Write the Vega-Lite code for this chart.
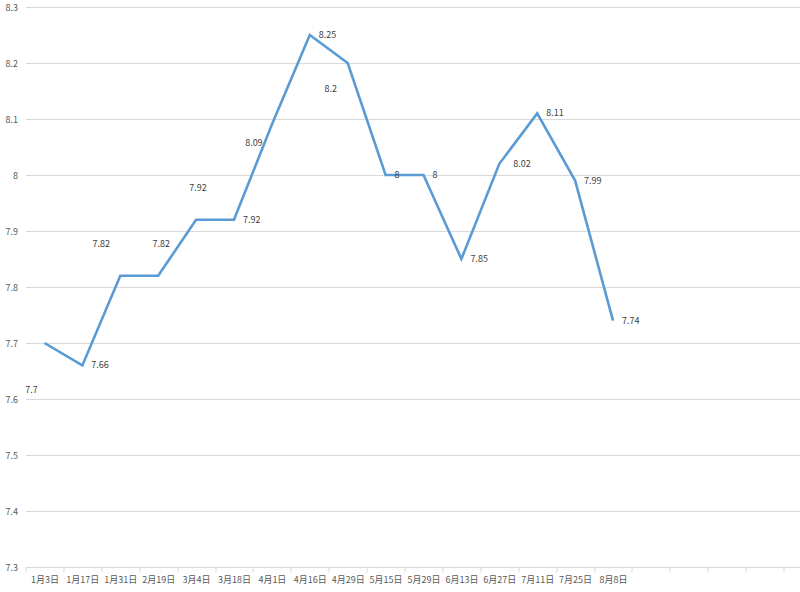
{
  "$schema": "https://vega.github.io/schema/vega-lite/v6.json",
  "autosize": {"type": "none"},
  "padding": {"left": 25.5, "top": 7, "right": 0, "bottom": 25},
  "width": 774.5,
  "height": 560,
  "background": "white",
  "data": {
    "values": [
      {"date": "1月3日", "ph": 7.7},
      {"date": "1月17日", "ph": 7.66},
      {"date": "1月31日", "ph": 7.82},
      {"date": "2月19日", "ph": 7.82},
      {"date": "3月4日", "ph": 7.92},
      {"date": "3月18日", "ph": 7.92},
      {"date": "4月1日", "ph": 8.09},
      {"date": "4月16日", "ph": 8.25},
      {"date": "4月29日", "ph": 8.2},
      {"date": "5月15日", "ph": 8},
      {"date": "5月29日", "ph": 8},
      {"date": "6月13日", "ph": 7.85},
      {"date": "6月27日", "ph": 8.02},
      {"date": "7月11日", "ph": 8.11},
      {"date": "7月25日", "ph": 7.99},
      {"date": "8月8日", "ph": 7.74}
    ]
  },
  "encoding": {
    "x": {
      "field": "date",
      "type": "nominal",
      "sort": null,
      "bandPosition": 0.5,
      "scale": {
        "type": "band",
        "domain": ["1月3日", "1月17日", "1月31日", "2月19日", "3月4日", "3月18日", "4月1日", "4月16日", "4月29日", "5月15日", "5月29日", "6月13日", "6月27日", "7月11日", "7月25日", "8月8日", "_1", "_2", "_3", "_4", "_5"],
        "range": [0, 796],
        "paddingInner": 0,
        "paddingOuter": 0
      },
      "axis": {
        "title": null,
        "labelAngle": 0,
        "labelExpr": "indexof(datum.label, '_') == 0 ? '' : datum.label",
        "labelFont": "Noto Sans CJK SC",
        "labelFontSize": 9,
        "labelColor": "#595959",
        "labelPadding": 3,
        "tickBand": "extent",
        "ticks": true,
        "tickSize": 5,
        "tickColor": "#d9d9d9",
        "domainColor": "#d9d9d9",
        "grid": false
      }
    },
    "y": {
      "field": "ph",
      "type": "quantitative",
      "scale": {"domain": [7.3, 8.3], "nice": false, "zero": false},
      "axis": {
        "title": null,
        "values": [7.3, 7.4, 7.5, 7.6, 7.7, 7.8, 7.9, 8, 8.1, 8.2, 8.3],
        "labelExpr": "'' + round(datum.value * 10) / 10",
        "labelFont": "Noto Sans CJK SC",
        "labelFontSize": 9,
        "labelColor": "#595959",
        "labelPadding": 8,
        "domain": false,
        "ticks": false,
        "grid": true,
        "gridColor": "#d9d9d9"
      }
    }
  },
  "layer": [
    {
      "mark": {"type": "line", "color": "#5b9bd5", "strokeWidth": 2.6}
    },
    {
      "transform": [{"filter": {"field": "date", "oneOf": ["1月17日", "3月18日", "4月16日", "5月15日", "5月29日", "6月13日", "7月11日", "7月25日", "8月8日"]}}],
      "mark": {"type": "text", "align": "left", "baseline": "middle", "dx": 9, "font": "Noto Sans CJK SC", "fontSize": 9, "color": "#404040"},
      "encoding": {"text": {"field": "ph", "type": "nominal"}}
    },
    {
      "transform": [{"filter": {"field": "date", "equal": "6月27日"}}],
      "mark": {"type": "text", "align": "left", "baseline": "middle", "dx": 14, "font": "Noto Sans CJK SC", "fontSize": 9, "color": "#404040"},
      "encoding": {"text": {"field": "ph", "type": "nominal"}}
    },
    {
      "transform": [{"filter": {"field": "date", "equal": "1月3日"}}],
      "mark": {"type": "text", "align": "center", "baseline": "middle", "dx": -13, "dy": 47, "font": "Noto Sans CJK SC", "fontSize": 9, "color": "#404040"},
      "encoding": {"text": {"field": "ph", "type": "nominal"}}
    },
    {
      "transform": [{"filter": {"field": "date", "equal": "1月31日"}}],
      "mark": {"type": "text", "align": "center", "baseline": "middle", "dx": -19, "dy": -32, "font": "Noto Sans CJK SC", "fontSize": 9, "color": "#404040"},
      "encoding": {"text": {"field": "ph", "type": "nominal"}}
    },
    {
      "transform": [{"filter": {"field": "date", "equal": "2月19日"}}],
      "mark": {"type": "text", "align": "center", "baseline": "middle", "dx": 3, "dy": -32, "font": "Noto Sans CJK SC", "fontSize": 9, "color": "#404040"},
      "encoding": {"text": {"field": "ph", "type": "nominal"}}
    },
    {
      "transform": [{"filter": {"field": "date", "equal": "3月4日"}}],
      "mark": {"type": "text", "align": "center", "baseline": "middle", "dx": 2, "dy": -32, "font": "Noto Sans CJK SC", "fontSize": 9, "color": "#404040"},
      "encoding": {"text": {"field": "ph", "type": "nominal"}}
    },
    {
      "transform": [{"filter": {"field": "date", "equal": "4月1日"}}],
      "mark": {"type": "text", "align": "center", "baseline": "middle", "dx": -18, "dy": 18, "font": "Noto Sans CJK SC", "fontSize": 9, "color": "#404040"},
      "encoding": {"text": {"field": "ph", "type": "nominal"}}
    },
    {
      "transform": [{"filter": {"field": "date", "equal": "4月29日"}}],
      "mark": {"type": "text", "align": "center", "baseline": "middle", "dx": -17, "dy": 26, "font": "Noto Sans CJK SC", "fontSize": 9, "color": "#404040"},
      "encoding": {"text": {"field": "ph", "type": "nominal"}}
    }
  ],
  "config": {
    "view": {"stroke": null}
  }
}
